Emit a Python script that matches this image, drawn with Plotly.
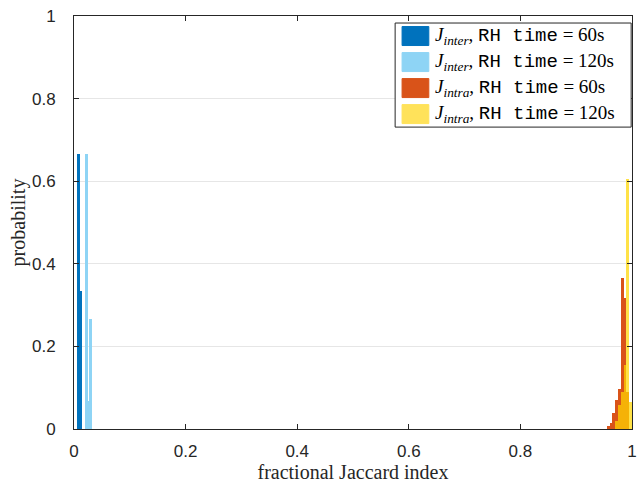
import plotly.graph_objects as go

# ---- data ----
bin_w = 0.005
inter60_x = [0.008, 0.0125]
inter60_p = [0.667, 0.333]
inter120_x = [0.022, 0.0265, 0.030]
inter120_p = [0.667, 0.067, 0.267]
intra60_x = [0.9575, 0.9625, 0.9675, 0.9725, 0.9775, 0.9825, 0.9875, 0.9925]
intra60_p = [0.008, 0.014, 0.039, 0.070, 0.097, 0.365, 0.318, 0.09]
intra120_x = [0.9725, 0.9775, 0.9825, 0.9875, 0.9925, 0.9975]
intra120_p = [0.020, 0.058, 0.090, 0.155, 0.605, 0.066]
tick_vals = [0, 0.2, 0.4, 0.6, 0.8, 1]
tick_text = ["0", "0.2", "0.4", "0.6", "0.8", "1"]

names = ["inter 60", "inter 120", "intra 60", "intra 120"]
colors = ["#0072BD", "#8ED4F5", "#D95319", "rgba(255,215,0,0.72)"]
legend_colors = ["#0072BD", "#8ED4F5", "#D95319", "#FFE25A"]
legend_sub = ["inter", "inter", "intra", "intra"]
legend_time = ["60s", "120s", "60s", "120s"]

fig = go.Figure()
for xs, ps, c, n in [(inter60_x, inter60_p, colors[0], names[0]),
                     (inter120_x, inter120_p, colors[1], names[1]),
                     (intra60_x, intra60_p, colors[2], names[2]),
                     (intra120_x, intra120_p, colors[3], names[3])]:
    fig.add_trace(go.Bar(x=xs, y=ps, width=[bin_w] * len(xs), marker_color=c,
                         marker_line_width=0, name=n, showlegend=False))

axis_color = "#262626"
tickfont = dict(family="Liberation Sans, Arial", size=17, color=axis_color)
serif = "Liberation Serif, DejaVu Serif, serif"

fig.update_layout(
    width=640, height=486,
    margin=dict(l=74, r=3, t=16, b=57),
    paper_bgcolor="white", plot_bgcolor="white",
    barmode="overlay", bargap=0,
    xaxis=dict(range=[0, 1], tickvals=tick_vals, ticktext=tick_text,
               ticks="inside", ticklen=5, tickcolor=axis_color,
               showline=True, linecolor=axis_color, linewidth=1, mirror="ticks",
               showgrid=False, zeroline=False, tickfont=tickfont,
               ticklabelstandoff=7, ticklabeloverflow="allow",
               title=dict(text="fractional Jaccard index",
                          font=dict(family=serif, size=20, color=axis_color), standoff=2)),
    yaxis=dict(range=[0, 1], tickvals=tick_vals, ticktext=tick_text,
               ticks="inside", ticklen=5, tickcolor=axis_color,
               showline=True, linecolor=axis_color, linewidth=1, mirror="ticks",
               showgrid=True, gridcolor="#E6E6E6", zeroline=False, tickfont=tickfont,
               ticklabelstandoff=14, ticklabeloverflow="allow",
               title=dict(text="probability",
                          font=dict(family=serif, size=20, color=axis_color), standoff=0)),
)

# ---- custom legend (layout decoration) ----
x0, x1 = 0.5755, 0.9985
y_top, y_bot = 0.983, 0.731
fig.add_shape(type="rect", xref="paper", yref="paper", x0=x0, x1=x1, y0=y_bot, y1=y_top,
              line=dict(color=axis_color, width=1), fillcolor="white", layer="above")
row_h = (y_top - y_bot) / 4
patch_w = 27 / 563
patch_h = 19 / 413
for i in range(4):
    yc = y_top - row_h * (i + 0.5)
    fig.add_shape(type="rect", xref="paper", yref="paper",
                  x0=x0 + 7 / 563, x1=x0 + 7 / 563 + patch_w,
                  y0=yc - patch_h / 2, y1=yc + patch_h / 2,
                  fillcolor=legend_colors[i], line=dict(color=legend_colors[i], width=1),
                  layer="above")
    txt = (f"<i>J</i><sub><i>{legend_sub[i]}</i></sub>, "
           f"<span style='font-family:Liberation Mono, DejaVu Sans Mono'>RH time</span>"
           f" = {legend_time[i]}")
    fig.add_annotation(xref="paper", yref="paper", x=x0 + 38 / 563, y=yc,
                       xanchor="left", yanchor="middle", showarrow=False,
                       text=txt, font=dict(family=serif, size=19, color="black"))

fig.write_html("out.html")
